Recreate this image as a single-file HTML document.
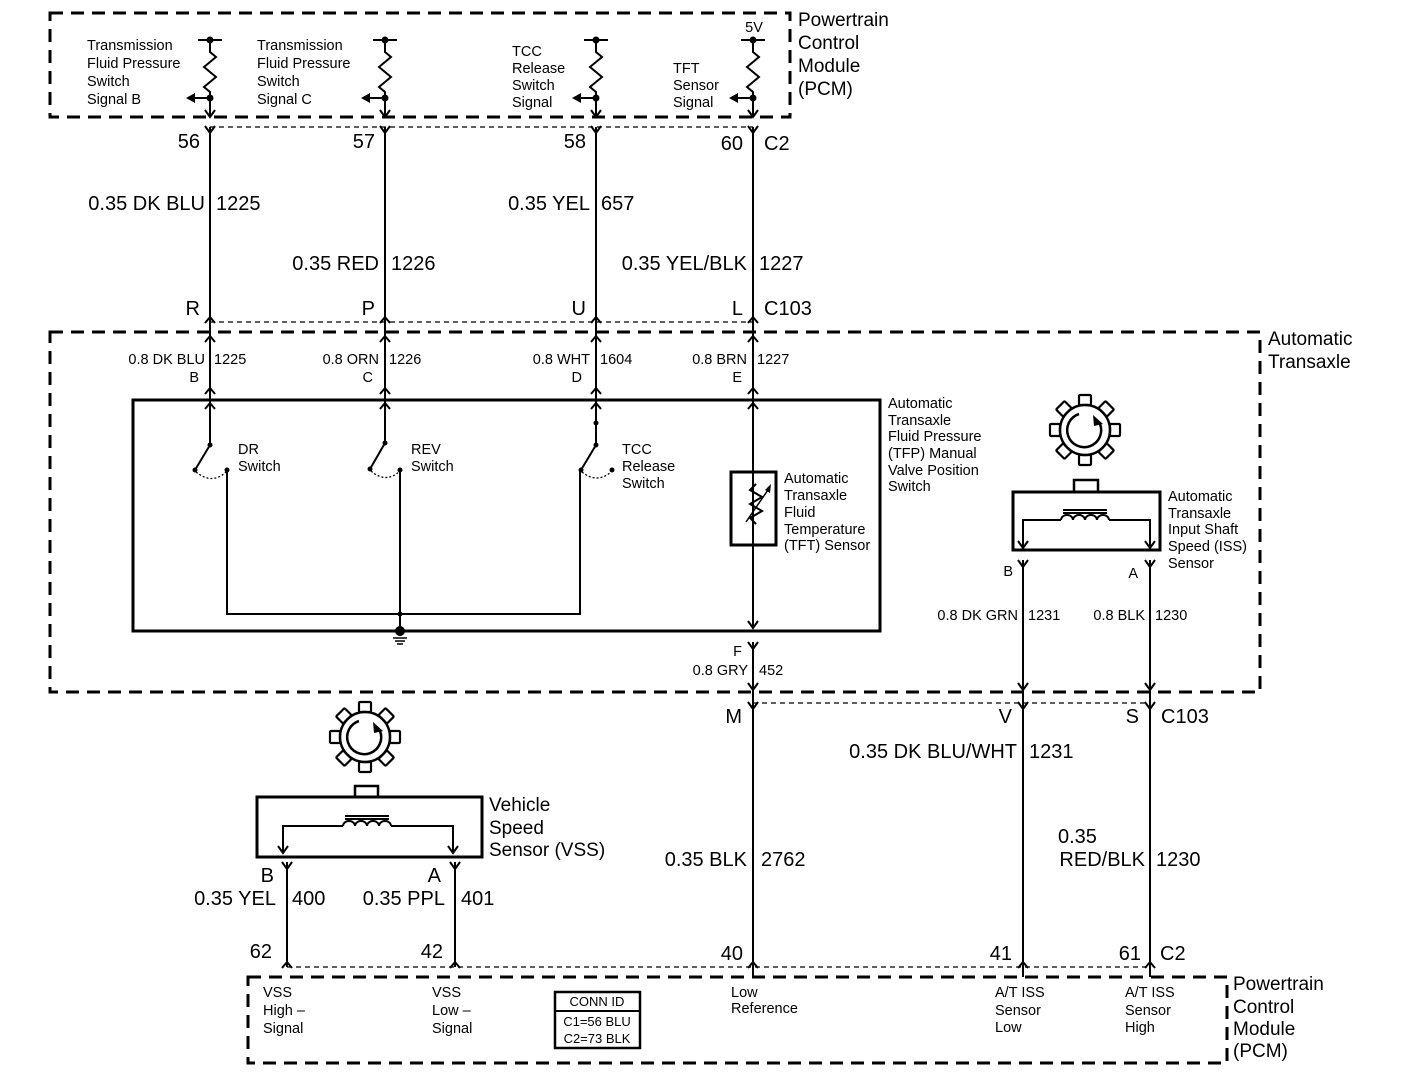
<!DOCTYPE html>
<html><head><meta charset="utf-8"><style>
html,body{margin:0;padding:0;background:#fff;}
svg{display:block;}
text{font-family:"Liberation Sans",sans-serif;fill:#000;}
.b{font-size:20px;}
.s{font-size:14.5px;}
.m{font-size:19px;}
</style></head><body>
<svg width="1408" height="1074" viewBox="0 0 1408 1074" xmlns="http://www.w3.org/2000/svg">
<defs>
<g id="res" fill="none" stroke="#000" stroke-width="2">
 <line x1="-12" y1="0" x2="12" y2="0"/>
 <circle cx="0" cy="0" r="2.5" fill="#000"/>
 <polyline points="0,0 0,12 6,17 -6,27 6,37 -6,47 0,52 0,76"/>
 <circle cx="0" cy="58" r="2.5" fill="#000"/>
 <line x1="0" y1="58" x2="-16" y2="58"/>
 <polygon points="-24,58 -15,53 -15,63" fill="#000" stroke="none"/>
 <polyline points="-5,70 0,77 5,70"/>
</g>
<path id="Y" d="M-5,-7 L0,0 L5,-7" fill="none" stroke="#000" stroke-width="2"/>
<path id="U" d="M-5,6 L0,0 L5,6" fill="none" stroke="#000" stroke-width="2"/>
<path id="V" d="M-5,-7 L0,0 L5,-7" fill="none" stroke="#000" stroke-width="2"/>
<g id="gear" fill="none" stroke="#000" stroke-width="2.5">
 <circle cx="0" cy="0" r="25"/>
 <path d="M-6,-16 A17,17 0 1 0 15,-6" stroke-width="2.5"/>
 <polygon points="8,-15 18,-6 9,-4" fill="#000" stroke="none"/>
 <g stroke-width="2.2">
 <rect x="-6" y="-35" width="12" height="10" rx="1"/>
 <rect x="-6" y="25" width="12" height="10" rx="1"/>
 <rect x="25" y="-6" width="10" height="12" rx="1"/>
 <rect x="-35" y="-6" width="10" height="12" rx="1"/>
 <rect x="-6" y="-35" width="12" height="10" rx="1" transform="rotate(45)"/>
 <rect x="-6" y="-35" width="12" height="10" rx="1" transform="rotate(-45)"/>
 <rect x="-6" y="-35" width="12" height="10" rx="1" transform="rotate(135)"/>
 <rect x="-6" y="-35" width="12" height="10" rx="1" transform="rotate(-135)"/>
 </g>
</g>
<g id="coil" fill="none" stroke="#000" stroke-width="2">
 <line x1="-22" y1="-10" x2="22" y2="-10"/>
 <line x1="-22" y1="-7" x2="22" y2="-7"/>
 <path d="M-24,0 A6,5 0 0 1 -12,0 A6,5 0 0 1 0,0 A6,5 0 0 1 12,0 A6,5 0 0 1 24,0"/>
</g>
</defs>

<rect x="50" y="13" width="740" height="104" fill="none" stroke="#000" stroke-width="3" stroke-dasharray="13,8"/>
<text class="m" x="798" y="26">Powertrain</text>
<text class="m" x="798" y="49">Control</text>
<text class="m" x="798" y="72">Module</text>
<text class="m" x="798" y="95">(PCM)</text>

<use href="#res" x="210" y="40"/>
<use href="#res" x="385" y="40"/>
<use href="#res" x="596" y="40"/>
<use href="#res" x="753" y="40"/>
<text class="s" x="754" y="32" text-anchor="middle">5V</text>
<text class="s" x="87" y="50">Transmission</text>
<text class="s" x="87" y="68">Fluid Pressure</text>
<text class="s" x="87" y="86">Switch</text>
<text class="s" x="87" y="104">Signal B</text>
<text class="s" x="257" y="50">Transmission</text>
<text class="s" x="257" y="68">Fluid Pressure</text>
<text class="s" x="257" y="86">Switch</text>
<text class="s" x="257" y="104">Signal C</text>
<text class="s" x="512" y="56">TCC</text>
<text class="s" x="512" y="73">Release</text>
<text class="s" x="512" y="90">Switch</text>
<text class="s" x="512" y="107">Signal</text>
<text class="s" x="673" y="73">TFT</text>
<text class="s" x="673" y="90">Sensor</text>
<text class="s" x="673" y="107">Signal</text>

<line x1="210" y1="127" x2="753" y2="127" stroke="#000" stroke-width="1.3" stroke-dasharray="5,4"/>
<g stroke="#000" stroke-width="2">
 <line x1="210" y1="127" x2="210" y2="400"/>
 <line x1="385" y1="127" x2="385" y2="400"/>
 <line x1="596" y1="127" x2="596" y2="400"/>
 <line x1="753" y1="127" x2="753" y2="628"/>
</g>
<use href="#Y" x="210" y="133"/><use href="#Y" x="385" y="133"/><use href="#Y" x="596" y="133"/><use href="#Y" x="753" y="133"/>
<text class="b" x="200" y="148" text-anchor="end">56</text>
<text class="b" x="375" y="148" text-anchor="end">57</text>
<text class="b" x="586" y="148" text-anchor="end">58</text>
<text class="b" x="743" y="150" text-anchor="end">60</text>
<text class="b" x="764" y="150">C2</text>

<text class="b" x="205" y="210" text-anchor="end">0.35 DK BLU</text><text class="b" x="216" y="210">1225</text>
<text class="b" x="379" y="270" text-anchor="end">0.35 RED</text><text class="b" x="391" y="270">1226</text>
<text class="b" x="590" y="210" text-anchor="end">0.35 YEL</text><text class="b" x="601" y="210">657</text>
<text class="b" x="747" y="270" text-anchor="end">0.35 YEL/BLK</text><text class="b" x="759" y="270">1227</text>

<text class="b" x="200" y="315" text-anchor="end">R</text>
<text class="b" x="375" y="315" text-anchor="end">P</text>
<text class="b" x="586" y="315" text-anchor="end">U</text>
<text class="b" x="743" y="315" text-anchor="end">L</text>
<text class="b" x="764" y="315">C103</text>
<line x1="210" y1="322" x2="753" y2="322" stroke="#000" stroke-width="1.3" stroke-dasharray="5,4"/>
<use href="#U" x="210" y="317"/><use href="#U" x="385" y="317"/><use href="#U" x="596" y="317"/><use href="#U" x="753" y="317"/>

<rect x="50" y="332" width="1210" height="360" fill="none" stroke="#000" stroke-width="3" stroke-dasharray="13,8"/>
<text class="m" x="1268" y="345">Automatic</text>
<text class="m" x="1268" y="368">Transaxle</text>
<use href="#U" x="210" y="336"/><use href="#U" x="385" y="336"/><use href="#U" x="596" y="336"/><use href="#U" x="753" y="336"/>
<text class="s" x="205" y="364" text-anchor="end">0.8 DK BLU</text><text class="s" x="214" y="364">1225</text>
<text class="s" x="379" y="364" text-anchor="end">0.8 ORN</text><text class="s" x="389" y="364">1226</text>
<text class="s" x="590" y="364" text-anchor="end">0.8 WHT</text><text class="s" x="600" y="364">1604</text>
<text class="s" x="747" y="364" text-anchor="end">0.8 BRN</text><text class="s" x="757" y="364">1227</text>
<text class="s" x="199" y="382" text-anchor="end">B</text>
<text class="s" x="373" y="382" text-anchor="end">C</text>
<text class="s" x="582" y="382" text-anchor="end">D</text>
<text class="s" x="742" y="382" text-anchor="end">E</text>
<use href="#U" x="210" y="388"/><use href="#U" x="385" y="388"/><use href="#U" x="596" y="388"/><use href="#U" x="753" y="388"/>

<rect x="133" y="400" width="747" height="231" fill="none" stroke="#000" stroke-width="3"/>
<use href="#U" x="210" y="403"/><use href="#U" x="385" y="403"/><use href="#U" x="596" y="403"/><use href="#U" x="753" y="403"/>
<g stroke="#000" stroke-width="2" fill="none">
 <line x1="210" y1="400" x2="210" y2="445"/>
 <line x1="210" y1="445" x2="195" y2="470"/>
 <path d="M196,472 Q212,485 226,472" stroke-width="1.3" stroke-dasharray="2,2"/>
 <polyline points="227,470 227,614 580,614 580,470"/>
 <line x1="385" y1="400" x2="385" y2="443"/>
 <line x1="385" y1="443" x2="370" y2="469"/>
 <path d="M371,471 Q386,484 400,471" stroke-width="1.3" stroke-dasharray="2,2"/>
 <line x1="400" y1="470" x2="400" y2="631"/>
 <line x1="596" y1="400" x2="596" y2="445"/>
 <line x1="596" y1="445" x2="581" y2="470"/>
 <path d="M582,472 Q597,484 611,472" stroke-width="1.3" stroke-dasharray="2,2"/>
</g>
<g fill="#000">
 <circle cx="210" cy="445" r="2.5"/><circle cx="195" cy="470" r="2.5"/><circle cx="227" cy="470" r="2.5"/>
 <circle cx="385" cy="443" r="2.5"/><circle cx="370" cy="469" r="2.5"/><circle cx="400" cy="470" r="2.5"/>
 <circle cx="596" cy="423" r="2.5"/><circle cx="596" cy="445" r="2.5"/><circle cx="581" cy="470" r="2.5"/><circle cx="612" cy="470" r="2.5"/>
 <circle cx="400" cy="614" r="2.5"/><circle cx="400" cy="631" r="5"/>
</g>
<g stroke="#000" stroke-width="1.5"><line x1="393" y1="638" x2="407" y2="638"/><line x1="395" y1="641" x2="405" y2="641"/><line x1="397" y1="644" x2="403" y2="644"/></g>
<text class="s" x="238" y="454">DR</text><text class="s" x="238" y="471">Switch</text>
<text class="s" x="411" y="454">REV</text><text class="s" x="411" y="471">Switch</text>
<text class="s" x="622" y="454">TCC</text><text class="s" x="622" y="471">Release</text><text class="s" x="622" y="488">Switch</text>
<rect x="731" y="472" width="45" height="73" fill="#fff" stroke="#000" stroke-width="3"/>
<line x1="753" y1="472" x2="753" y2="628" stroke="#000" stroke-width="2"/>
<polyline points="753,484 747,490 759,497 747,504 759,511 747,518 753,524" fill="none" stroke="#000" stroke-width="2" transform="translate(3,0)"/>
<line x1="746" y1="522" x2="770" y2="487" stroke="#000" stroke-width="1.5"/>
<polygon points="771,484 765,490 770,493" fill="#000"/>
<use href="#V" x="753" y="628"/>
<text class="s" x="784" y="483">Automatic</text><text class="s" x="784" y="500">Transaxle</text><text class="s" x="784" y="517">Fluid</text><text class="s" x="784" y="534">Temperature</text><text class="s" x="784" y="550">(TFT) Sensor</text>
<text class="s" x="888" y="408">Automatic</text><text class="s" x="888" y="425">Transaxle</text><text class="s" x="888" y="441">Fluid Pressure</text><text class="s" x="888" y="458">(TFP) Manual</text><text class="s" x="888" y="475">Valve Position</text><text class="s" x="888" y="491">Switch</text>
<use href="#Y" x="753" y="649"/>
<line x1="753" y1="642" x2="753" y2="977" stroke="#000" stroke-width="2"/>
<text class="s" x="742" y="656" text-anchor="end">F</text>
<text class="s" x="748" y="675" text-anchor="end">0.8 GRY</text><text class="s" x="759" y="675">452</text>
<use href="#V" x="753" y="690"/>

<use href="#gear" x="1085" y="430"/>
<rect x="1074" y="480" width="24" height="12" fill="none" stroke="#000" stroke-width="2.5"/>
<rect x="1013" y="492" width="147" height="58" fill="none" stroke="#000" stroke-width="3"/>
<use href="#coil" x="1085" y="520"/>
<polyline points="1023,547 1023,520 1061,520" fill="none" stroke="#000" stroke-width="2"/>
<polyline points="1109,520 1150,520 1150,547" fill="none" stroke="#000" stroke-width="2"/>
<use href="#V" x="1023" y="548"/><use href="#V" x="1150" y="548"/>
<text class="s" x="1168" y="501">Automatic</text><text class="s" x="1168" y="518">Transaxle</text><text class="s" x="1168" y="534">Input Shaft</text><text class="s" x="1168" y="551">Speed (ISS)</text><text class="s" x="1168" y="568">Sensor</text>
<use href="#Y" x="1023" y="567"/><use href="#Y" x="1150" y="567"/>
<text class="s" x="1013" y="576" text-anchor="end">B</text><text class="s" x="1138" y="578" text-anchor="end">A</text>
<line x1="1023" y1="560" x2="1023" y2="977" stroke="#000" stroke-width="2"/>
<line x1="1150" y1="560" x2="1150" y2="977" stroke="#000" stroke-width="2"/>
<text class="s" x="1018" y="620" text-anchor="end">0.8 DK GRN</text><text class="s" x="1028" y="620">1231</text>
<text class="s" x="1145" y="620" text-anchor="end">0.8 BLK</text><text class="s" x="1155" y="620">1230</text>
<use href="#V" x="1023" y="690"/><use href="#V" x="1150" y="690"/>

<line x1="753" y1="703" x2="1150" y2="703" stroke="#000" stroke-width="1.3" stroke-dasharray="5,4"/>
<use href="#Y" x="753" y="709"/><use href="#Y" x="1023" y="709"/><use href="#Y" x="1150" y="709"/>
<text class="b" x="742" y="723" text-anchor="end">M</text>
<text class="b" x="1012" y="723" text-anchor="end">V</text>
<text class="b" x="1139" y="723" text-anchor="end">S</text>
<text class="b" x="1161" y="723">C103</text>
<text class="b" x="1017" y="758" text-anchor="end">0.35 DK BLU/WHT</text><text class="b" x="1029" y="758">1231</text>
<text class="b" x="747" y="866" text-anchor="end">0.35 BLK</text><text class="b" x="761" y="866">2762</text>
<text class="b" x="1058" y="843">0.35</text>
<text class="b" x="1145" y="866" text-anchor="end">RED/BLK</text><text class="b" x="1156" y="866">1230</text>

<use href="#gear" x="365" y="737"/>
<rect x="355" y="786" width="23" height="11" fill="none" stroke="#000" stroke-width="2.5"/>
<rect x="257" y="797" width="225" height="60" fill="none" stroke="#000" stroke-width="3"/>
<use href="#coil" x="367" y="826"/>
<polyline points="283,852 283,826 343,826" fill="none" stroke="#000" stroke-width="2"/>
<polyline points="391,826 453,826 453,852" fill="none" stroke="#000" stroke-width="2"/>
<use href="#V" x="283" y="853"/><use href="#V" x="453" y="853"/>
<text class="m" x="489" y="811">Vehicle</text><text class="m" x="489" y="834">Speed</text><text class="m" x="489" y="856">Sensor (VSS)</text>
<use href="#Y" x="287" y="869"/><use href="#Y" x="455" y="869"/>
<line x1="287" y1="862" x2="287" y2="967" stroke="#000" stroke-width="2"/>
<line x1="455" y1="862" x2="455" y2="967" stroke="#000" stroke-width="2"/>
<text class="b" x="274" y="882" text-anchor="end">B</text><text class="b" x="441" y="882" text-anchor="end">A</text>
<text class="b" x="276" y="905" text-anchor="end">0.35 YEL</text><text class="b" x="292" y="905">400</text>
<text class="b" x="445" y="905" text-anchor="end">0.35 PPL</text><text class="b" x="461" y="905">401</text>

<line x1="287" y1="967" x2="1150" y2="967" stroke="#000" stroke-width="1.3" stroke-dasharray="5,4"/>
<use href="#U" x="287" y="962"/><use href="#U" x="455" y="962"/><use href="#U" x="753" y="962"/><use href="#U" x="1023" y="962"/><use href="#U" x="1150" y="962"/>
<text class="b" x="272" y="958" text-anchor="end">62</text>
<text class="b" x="443" y="958" text-anchor="end">42</text>
<text class="b" x="743" y="960" text-anchor="end">40</text>
<text class="b" x="1012" y="960" text-anchor="end">41</text>
<text class="b" x="1141" y="960" text-anchor="end">61</text>
<text class="b" x="1160" y="960">C2</text>

<rect x="248" y="977" width="979" height="86" fill="none" stroke="#000" stroke-width="3" stroke-dasharray="13,8"/>
<text class="m" x="1233" y="990">Powertrain</text><text class="m" x="1233" y="1013">Control</text><text class="m" x="1233" y="1035">Module</text><text class="m" x="1233" y="1057">(PCM)</text>
<text class="s" x="263" y="997">VSS</text><text class="s" x="263" y="1015">High –</text><text class="s" x="263" y="1033">Signal</text>
<text class="s" x="432" y="997">VSS</text><text class="s" x="432" y="1015">Low –</text><text class="s" x="432" y="1033">Signal</text>
<text class="s" x="731" y="997">Low</text><text class="s" x="731" y="1013">Reference</text>
<text class="s" x="995" y="997">A/T ISS</text><text class="s" x="995" y="1015">Sensor</text><text class="s" x="995" y="1032">Low</text>
<text class="s" x="1125" y="997">A/T ISS</text><text class="s" x="1125" y="1015">Sensor</text><text class="s" x="1125" y="1032">High</text>
<rect x="555" y="992" width="85" height="56" fill="none" stroke="#000" stroke-width="2.5"/>
<line x1="555" y1="1011" x2="640" y2="1011" stroke="#000" stroke-width="2"/>
<text class="s" x="597" y="1006" text-anchor="middle" style="font-size:13px">CONN ID</text>
<text class="s" x="597" y="1026" text-anchor="middle" style="font-size:13px">C1=56 BLU</text>
<text class="s" x="597" y="1043" text-anchor="middle" style="font-size:13px">C2=73 BLK</text>
</svg>
</body></html>
